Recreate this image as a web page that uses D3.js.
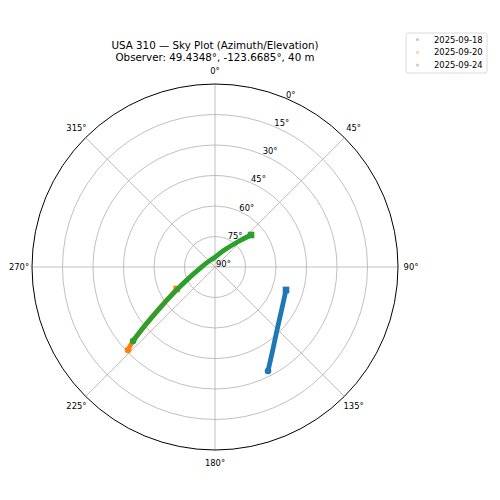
<!DOCTYPE html>
<html><head><meta charset="utf-8">
<script src="https://cdn.jsdelivr.net/npm/d3@7"></script>
<style>body{margin:0;background:#fff}svg{display:block;font-family:"DejaVu Sans",sans-serif}</style>
</head><body><svg id="c" width="500" height="500"></svg>
<script>
// ---- data ----
const passDates = ["2025-09-18", "2025-09-20", "2025-09-24"];
const passColors = ["#1f77b4", "#ff7f0e", "#2ca02c"];
// azimuth (deg, clockwise from N) and elevation (deg) for each pass
const az0918 = [153.0, 145.5, 135.7, 123.0, 107.9];
const el0918 = [32.6, 40.0, 46.4, 51.0, 53.3];
const az0920 = [226.35, 227.9, 230.1, 233.4, 240.1];
const el0920 = [30.9, 35.7, 45.1, 56.3, 68.3];
const az0924 = [227.9, 230.1, 233.4, 238.4, 248.0, 265.0, 298.8, 0.0, 28.3, 42.3, 48.4];
const el0924 = [35.7, 45.1, 56.3, 66.9, 76.7, 82.6, 85.5, 85.2, 80.7, 73.2, 66.3];
const azTicks = [0, 45, 90, 135, 180, 225, 270, 315];
const elTicks = [0, 15, 30, 45, 60, 75, 90];
const titleLines = ["USA 310 — Sky Plot (Azimuth/Elevation)", "Observer: 49.4348°, -123.6685°, 40 m"];

const series = [
  {date: passDates[0], az: az0918, el: el0918},
  {date: passDates[1], az: az0920, el: el0920},
  {date: passDates[2], az: az0924, el: el0924}
];

// ---- layout ----
const cx = 215, cy = 267, R = 183;
const svg = d3.select("#c");
const r = d3.scaleLinear().domain([90, 0]).range([0, R]);
const a = d3.scaleLinear().domain([0, 360]).range([0, 2 * Math.PI]);
const g = svg.append("g").attr("transform", `translate(${cx},${cy})`);

// grid circles
g.selectAll("circle.grid").data(elTicks.filter(e => e > 0 && e < 90)).join("circle")
  .attr("r", d => r(d)).attr("fill", "none").attr("stroke", "#b0b0b0").attr("stroke-width", 0.8);
// radial spokes
g.selectAll("line.spoke").data(azTicks).join("line")
  .attr("x1", 0).attr("y1", 0)
  .attr("x2", d => R * Math.sin(a(d))).attr("y2", d => -R * Math.cos(a(d)))
  .attr("stroke", "#b0b0b0").attr("stroke-width", 0.8);
// outer spine
g.append("circle").attr("r", R).attr("fill", "none").attr("stroke", "#000").attr("stroke-width", 1);

// angular labels
g.selectAll("text.az").data(azTicks).join("text")
  .attr("x", d => (R + 13) * Math.sin(a(d)))
  .attr("y", d => -(R + 13) * Math.cos(a(d)))
  .attr("text-anchor", "middle").attr("dy", "0.35em")
  .attr("font-size", 8.4).attr("fill", "#000")
  .text(d => d + "°");

// radial labels at 22.5°
const rl = a(22.5);
g.selectAll("text.el").data(elTicks).join("text")
  .attr("x", d => r(d) * Math.sin(rl) + 1)
  .attr("y", d => -r(d) * Math.cos(rl))
  .attr("font-size", 8.4).attr("fill", "#000")
  .text(d => d + "°");

// tracks
const line = d3.lineRadial().angle(d => a(d[0])).radius(d => r(d[1])).curve(d3.curveCatmullRom);
series.forEach((s, i) => {
  const pts = s.az.map((v, k) => [v, s.el[k]]);
  g.append("path").attr("d", line(pts)).attr("fill", "none")
    .attr("stroke", passColors[i]).attr("stroke-width", 4.8)
    .attr("stroke-linecap", "butt").attr("stroke-linejoin", "round");
  const p0 = d3.pointRadial(a(pts[0][0]), r(pts[0][1]));
  const p1 = d3.pointRadial(a(pts[pts.length - 1][0]), r(pts[pts.length - 1][1]));
  g.append("circle").attr("cx", p0[0]).attr("cy", p0[1]).attr("r", 3.3).attr("fill", passColors[i]);
  g.append("rect").attr("x", p1[0] - 3.3).attr("y", p1[1] - 3.3).attr("width", 6.6).attr("height", 6.6).attr("fill", passColors[i]);
});

// title
svg.selectAll("text.title").data(titleLines).join("text")
  .attr("x", cx).attr("y", (d, i) => 49 + i * 12)
  .attr("text-anchor", "middle").attr("font-size", 10.3).attr("fill", "#000")
  .text(d => d);

// legend
const lg = svg.append("g");
lg.append("rect").attr("x", 406).attr("y", 33).attr("width", 81).attr("height", 40).attr("rx", 2)
  .attr("fill", "#fff").attr("fill-opacity", 0.8).attr("stroke", "#d0d0d0").attr("stroke-width", 0.8);
passDates.forEach((d, i) => {
  lg.append("circle").attr("cx", 417.5).attr("cy", 39.5 + i * 12.8).attr("r", 1.6)
    .attr("fill", passColors[i]).attr("fill-opacity", 0.35);
  lg.append("text").attr("x", 434).attr("y", 42.5 + i * 12.8).attr("font-size", 8.4).attr("fill", "#000").text(d);
});
</script></body></html>
